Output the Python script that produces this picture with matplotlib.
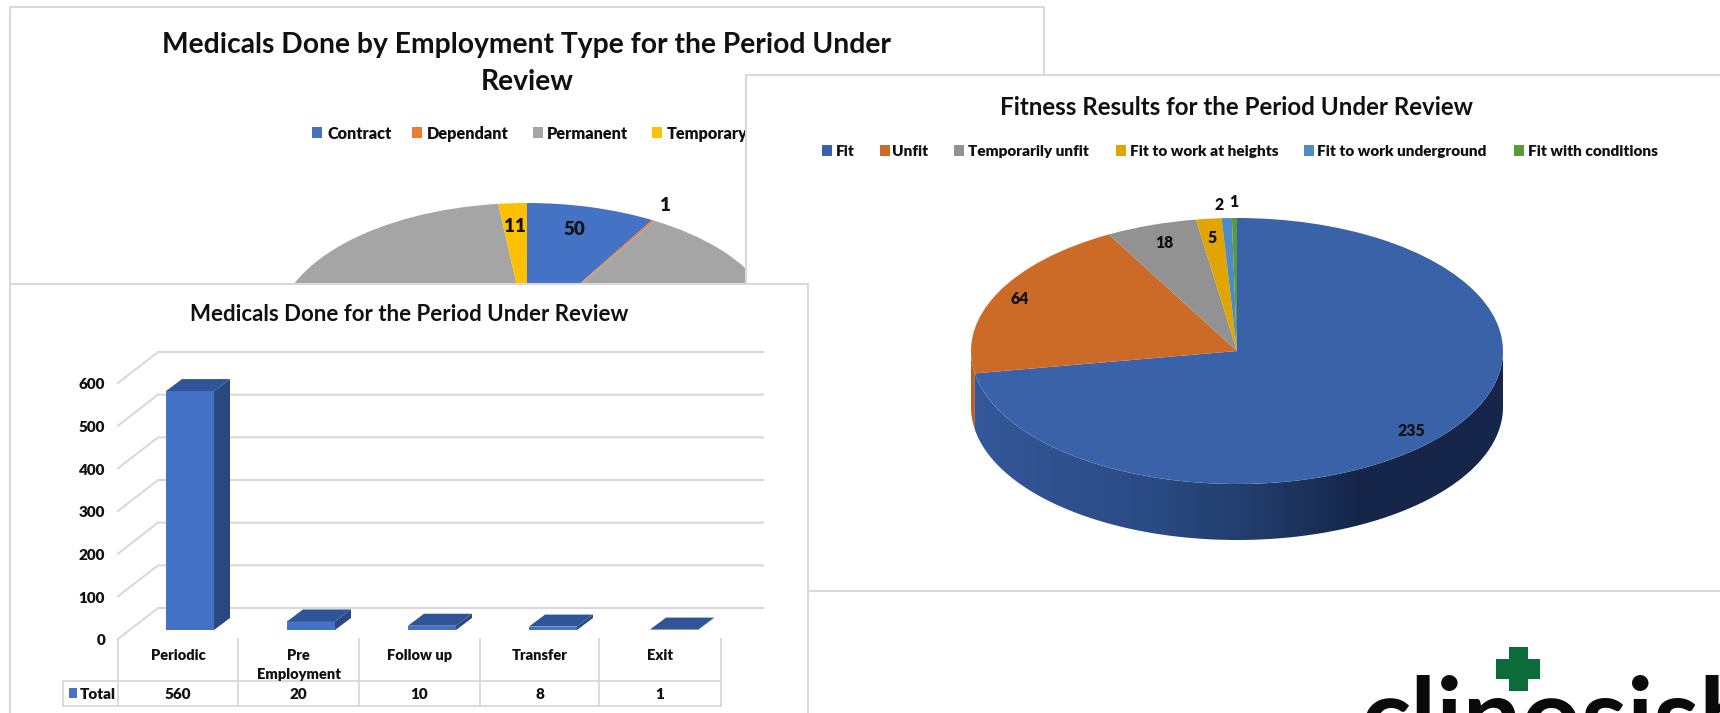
import numpy as np
import matplotlib
matplotlib.use('Agg')
import matplotlib.pyplot as plt
from matplotlib.colors import LinearSegmentedColormap
from matplotlib.patches import Polygon, Rectangle

# employment type pie (mostly hidden behind the other charts)
emp_labels = ['Contract', 'Dependant', 'Permanent', 'Temporary']
emp_values = [50, 1, 537, 11]
emp_colors = ['#4472C4', '#ED7D31', '#A5A5A5', '#FFC000']

# medicals done bars
med_labels = ['Periodic', 'Pre\nEmployment', 'Follow up', 'Transfer', 'Exit']
med_values = [560, 20, 10, 8, 1]
med_ticks = [0, 100, 200, 300, 400, 500, 600]

# fitness results pie
fit_labels = ['Fit', 'Unfit', 'Temporarily unfit', 'Fit to work at heights',
              'Fit to work underground', 'Fit with conditions']
fit_values = [235, 64, 18, 5, 2, 1]
fit_colors = ['#3A62A8', '#CC6A27', '#929292', '#E0A500', '#4F8CC4', '#5A9A3A']

W, H = 1720, 713
FONT = 'Lato'
BORDER = '#D9D9D9'
TXT = '#111111'
TEXT_DROP = 1.8  # Lato sits a little high when centred

plt.rcParams['font.family'] = [FONT, 'DejaVu Sans']
fig = plt.figure(figsize=(W / 100, H / 100), dpi=100, facecolor='white')


def layer(z):
    # transparent full figure axes, units are pixels of the picture
    ax = fig.add_axes([0, 0, 1, 1], zorder=z)
    ax.set_xlim(0, W)
    ax.set_ylim(H, 0)
    ax.axis('off')
    ax.patch.set_alpha(0)
    return ax


def panel(ax, x0, y0, x1, y1):
    ax.add_patch(Rectangle((x0, y0), x1 - x0, y1 - y0, facecolor='white',
                           edgecolor=BORDER, linewidth=1.5))


def put(ax, x, y, s, size, ha='center', weight='heavy'):
    ax.text(x, y + TEXT_DROP, s, fontsize=size, fontweight=weight, color=TXT, ha=ha, va='center')


def flat_pie(values, colors, cx, cy, rx, ry, z):
    # squashed pie, the axes box gives the ellipse
    ax = fig.add_axes([(cx - rx) / W, 1 - (cy + ry) / H, 2 * rx / W, 2 * ry / H], zorder=z)
    ax.pie(values, colors=colors, startangle=90, counterclock=False, radius=1,
           wedgeprops=dict(linewidth=0))
    ax.set_aspect('auto')
    ax.set_xlim(-1, 1)
    ax.set_ylim(-1, 1)
    ax.patch.set_alpha(0)
    return ax


def legend_row(ax, y, xs, labels, colors, size):
    for (px, tx), lab, col in zip(xs, labels, colors):
        ax.add_patch(Rectangle((px, y - 5.5), 10, 11, facecolor=col, edgecolor='none'))
        put(ax, tx, y, lab, size, ha='left')


# ---- top left chart
lay1 = layer(1)
panel(lay1, 10, 7, 1044, 400)
put(lay1, 527, 43, 'Medicals Done by Employment Type for the Period Under', 20.3, weight='bold')
put(lay1, 527, 80, 'Review', 20.3, weight='bold')
legend_row(lay1, 132, [(312, 327), (412, 427), (533, 547), (652, 667)], emp_labels, emp_colors, 11.7)

flat_pie(emp_values, emp_colors, 527, 330, 250, 127, 2)
lay1b = layer(2.5)
put(lay1b, 574, 228, str(emp_values[0]), 13.5)
put(lay1b, 515, 225, str(emp_values[3]), 13.5)
put(lay1b, 665, 204, str(emp_values[1]), 13.5)

# logo, only the top of the word is on the picture
lay1b.add_patch(Rectangle((1509, 647), 19, 44, facecolor='#0B6B3A', edgecolor='none'))
lay1b.add_patch(Rectangle((1496, 659), 44, 20, facecolor='#0B6B3A', edgecolor='none'))
lay1b.text(1360, 752, 'clinosish', fontsize=75, fontweight='bold', color='#0A0A0A',
           ha='left', va='baseline')

# ---- right chart
lay3 = layer(3)
panel(lay3, 746, 75, 1760, 591)
put(lay3, 1237, 106, 'Fitness Results for the Period Under Review', 17.4, weight='bold')
legend_row(lay3, 150, [(822, 836), (880, 892), (954, 968), (1116, 1130), (1304, 1317), (1514, 1528)],
           fit_labels, fit_colors, 11.1)

cx, cy, rx, ry, depth = 1237, 351, 266, 133, 56
fit_end = 360 * fit_values[0] / sum(fit_values)

# side wall of the pie: Fit with a shaded gradient, a sliver of Unfit at the far left
t = np.radians(np.linspace(90, fit_end, 200))
xs = cx + rx * np.sin(t)
ys = cy - ry * np.cos(t)
wall = np.column_stack([np.r_[xs, xs[::-1]], np.r_[ys, ys[::-1] + depth]])
t2 = np.radians(np.linspace(fit_end, 270, 20))
xs2 = cx + rx * np.sin(t2)
ys2 = cy - ry * np.cos(t2)
lay3.add_patch(Polygon(np.column_stack([np.r_[xs2, xs2[::-1]], np.r_[ys2, ys2[::-1] + depth]]),
                       facecolor='#B85F22', edgecolor='none'))
shade = LinearSegmentedColormap.from_list('shade', [(0, '#34589A'), (0.35, '#2A4A82'), (0.55, '#213A68'),
                                                    (0.72, '#16274A'), (1, '#15264A')])
im = lay3.imshow(np.linspace(0, 1, 256).reshape(1, -1), cmap=shade, aspect='auto', zorder=2,
                 extent=(cx - rx, cx + rx, cy + ry + depth, cy))
clip = Polygon(wall, transform=lay3.transData, facecolor='none', edgecolor='none')
lay3.add_patch(clip)
im.set_clip_path(clip)
lay3.set_xlim(0, W)
lay3.set_ylim(H, 0)

flat_pie(fit_values, fit_colors, cx, cy, rx, ry, 4)
lay3b = layer(5)
fit_text_pos = [(1411, 429), (1020, 297), (1164, 241), (1212, 236), (1219, 203), (1234, 200)]
for (tx, ty), v in zip(fit_text_pos, fit_values):
    put(lay3b, tx, ty, str(v), 11.3)

# ---- bottom left chart
lay2 = layer(6)
panel(lay2, 10, 284, 808, 760)
put(lay2, 409, 313, 'Medicals Done for the Period Under Review', 16, weight='bold')

# bar axes covers the panel, x is the category number, y is the value
bx0, bstep = 190, 121
base_y, per_unit = 630, 256 / 600
ax = fig.add_axes([10 / W, 0, 798 / W, 429 / H], zorder=7)
ax.set_xlim((10 - bx0) / bstep, (808 - bx0) / bstep)
ax.set_ylim((base_y - 713) / per_unit, (base_y - 284) / per_unit)
ax.axis('off')
ax.patch.set_alpha(0)

back_off = 22 / per_unit
front_off = -9 / per_unit
x_front = (118 - bx0) / bstep
x_back = (158 - bx0) / bstep
x_end = (763 - bx0) / bstep
for v in med_ticks:
    ax.plot([x_front, x_back, x_end], [v + front_off, v + back_off, v + back_off],
            color=BORDER, lw=1.5, solid_joinstyle='miter', zorder=1)
    ax.text((105 - bx0) / bstep, v + front_off - TEXT_DROP / per_unit, str(v), fontsize=11,
            fontweight='heavy', color=TXT, ha='right', va='center')

bar_w = 48 / bstep
dx = 16 / bstep
dy = 12 / per_unit
pos = np.arange(len(med_values))
ax.bar(pos, med_values, width=bar_w, color='#4472C4', linewidth=0, zorder=3)
for p, v in zip(pos, med_values):
    r = p + bar_w / 2
    l = p - bar_w / 2
    ax.add_patch(Polygon([(r, 0), (r + dx, dy), (r + dx, v + dy), (r, v)], facecolor='#2A4880',
                         edgecolor='none', zorder=3))
    ax.add_patch(Polygon([(l, v), (r, v), (r + dx, v + dy), (l + dx, v + dy)], facecolor='#2F5597',
                         edgecolor='none', zorder=3))

# data table under the bars
col_x = [118, 238, 359, 480, 599, 721]
for x in col_x:
    lay2.plot([x, x], [639, 706], color=BORDER, lw=1.3)
lay2.plot([63, 721], [681, 681], color=BORDER, lw=1.3)
lay2.plot([63, 721], [706, 706], color=BORDER, lw=1.3)
lay2.plot([63, 63], [681, 706], color=BORDER, lw=1.3)
lay2.add_patch(Rectangle((69, 688), 8, 10, facecolor='#4472C4', edgecolor='none'))
put(lay2, 80, 693, 'Total', 11, ha='left')
for i, (lab, v) in enumerate(zip(med_labels, med_values)):
    mid = (col_x[i] + col_x[i + 1]) / 2
    for j, line in enumerate(lab.split('\n')):
        put(lay2, mid, 654 + 19 * j, line, 10.5)
    put(lay2, mid, 693, str(v), 11)

fig.savefig('out.png', dpi=100)
